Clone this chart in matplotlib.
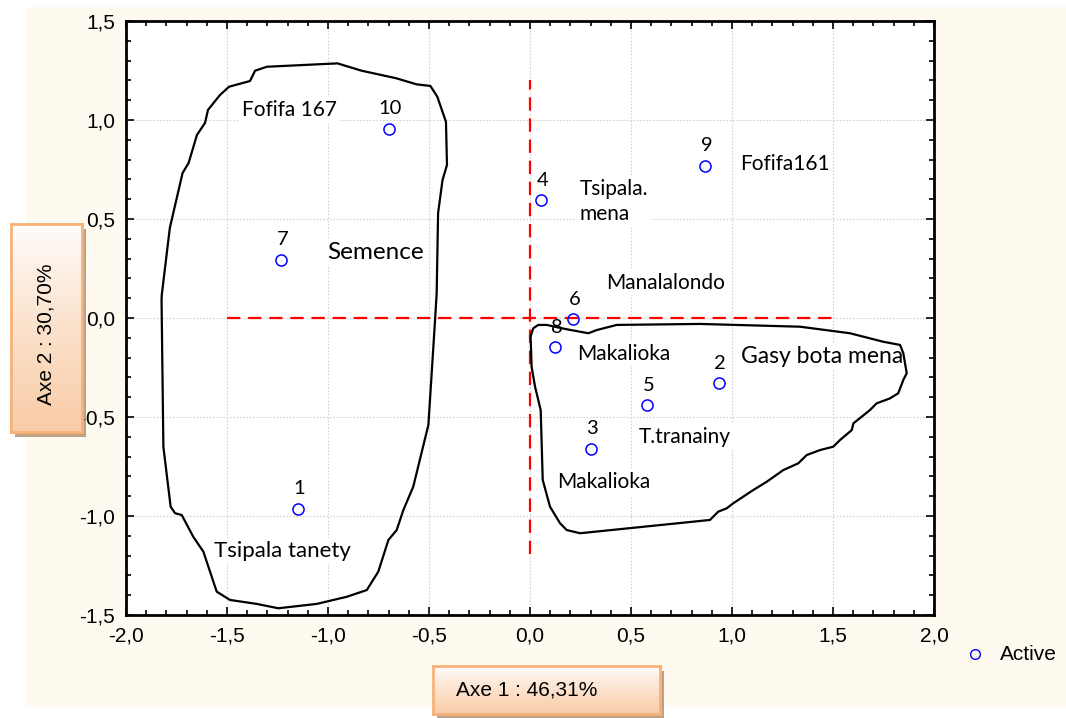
import matplotlib
matplotlib.use("Agg")
import matplotlib.pyplot as plt
import numpy as np
from matplotlib.patches import Rectangle, Polygon
from matplotlib.lines import Line2D
from matplotlib.ticker import MultipleLocator, FuncFormatter

# ---- data: coordinates of the 10 varieties on the first two axes ----
point_ids = ["1", "2", "3", "4", "5", "6", "7", "8", "9", "10"]
axe1 = [-1.15, 0.934, 0.30, 0.053, 0.578, 0.212, -1.233, 0.125, 0.865, -0.699]
axe2 = [-0.965, -0.33, -0.662, 0.594, -0.441, -0.007, 0.293, -0.148, 0.768, 0.956]

# variety names placed beside the points
name_text = ["Fofifa 167", "Semence", "Tsipala tanety", "Tsipala.\nmena", "Fofifa161",
             "Manalalondo", "Makalioka", "Gasy bota mena", "T.tranainy", "Makalioka"]
name_x = [-1.193, -0.767, -1.228, 0.245, 1.26, 0.673, 0.465, 1.446, 0.767, 0.366]
name_y = [1.051, 0.333, -1.177, 0.588, 0.776, 0.178, -0.182, -0.192, -0.599, -0.828]
name_size = [15, 17.5, 16, 15, 15, 15, 15, 16.5, 15, 15]
name_ha = ["center", "center", "center", "left", "center",
           "center", "center", "center", "center", "center"]

# outlines of the two groups
group_left_x = [-1.386, -1.361, -1.302, -0.953, -0.834, -0.663, -0.561, -0.493, -0.459, -0.416,
                -0.411, -0.433, -0.455, -0.462, -0.470, -0.503, -0.578, -0.627, -0.660, -0.701,
                -0.751, -0.808, -0.907, -1.056, -1.246, -1.353, -1.485, -1.551, -1.617, -1.667,
                -1.724, -1.757, -1.779, -1.815, -1.824, -1.823, -1.783, -1.720, -1.690, -1.649,
                -1.609, -1.594, -1.535, -1.490]
group_left_y = [1.197, 1.249, 1.269, 1.286, 1.249, 1.211, 1.180, 1.172, 1.118, 0.991,
                0.773, 0.697, 0.530, 0.126, -0.010, -0.540, -0.852, -0.970, -1.071, -1.121,
                -1.281, -1.374, -1.408, -1.444, -1.466, -1.444, -1.424, -1.382, -1.180, -1.105,
                -0.995, -0.986, -0.953, -0.650, 0.091, 0.116, 0.455, 0.732, 0.783, 0.924,
                0.985, 1.051, 1.126, 1.168]
group_right_x = [0.016, 0.041, 0.083, 0.182, 0.289, 0.330, 0.429, 0.842, 1.337, 1.584,
                 1.749, 1.832, 1.848, 1.865, 1.848, 1.823, 1.782, 1.716, 1.683, 1.601,
                 1.593, 1.535, 1.501, 1.436, 1.370, 1.328, 1.254, 1.172, 1.105, 1.006,
                 0.974, 0.932, 0.891, 0.248, 0.182, 0.149, 0.099, 0.063, 0.053, 0.025,
                 0.008, 0.003]
group_right_y = [-0.052, -0.035, -0.035, -0.057, -0.077, -0.061, -0.035, -0.030, -0.044, -0.077,
                 -0.120, -0.136, -0.178, -0.279, -0.313, -0.380, -0.406, -0.431, -0.465, -0.532,
                 -0.566, -0.616, -0.650, -0.667, -0.692, -0.734, -0.768, -0.827, -0.869, -0.936,
                 -0.961, -0.978, -1.020, -1.087, -1.071, -1.037, -0.953, -0.818, -0.465, -0.347,
                 -0.246, -0.094]

x_label = "Axe 1 : 46,31%"
y_label = "Axe 2 : 30,70%"
legend_label = "Active"

# ---- figure ----
W, H = 1066, 718
fig = plt.figure(figsize=(W / 100, H / 100), dpi=100)
fig.patch.set_facecolor("white")


def fx(px):
    return px / W


def fy(py):
    return 1 - py / H


# cream panel behind everything
fig.patches.append(Rectangle((fx(25), fy(707)), fx(1066) - fx(25), fy(7) - fy(707),
                             transform=fig.transFigure, facecolor="#FFFAF0",
                             edgecolor="none", zorder=-10))

ax = fig.add_axes([fx(126), fy(615), fx(934) - fx(126), fy(21) - fy(615)])
ax.set_facecolor("white")
ax.set_xlim(-2.0, 2.0)
ax.set_ylim(-1.5, 1.5)

fmt = FuncFormatter(lambda v, p: f"{v:.1f}".replace(".", ","))
ax.xaxis.set_major_locator(MultipleLocator(0.5))
ax.yaxis.set_major_locator(MultipleLocator(0.5))
ax.xaxis.set_minor_locator(MultipleLocator(0.1))
ax.yaxis.set_minor_locator(MultipleLocator(0.1))
ax.xaxis.set_major_formatter(fmt)
ax.yaxis.set_major_formatter(fmt)
ax.tick_params(which="both", direction="in", top=True, right=True, width=1.2, color="black")
ax.tick_params(which="major", length=6, pad=8)
ax.tick_params(which="minor", length=3.5)
for lab in ax.get_xticklabels() + ax.get_yticklabels():
    lab.set_fontfamily("Liberation Sans")
    lab.set_fontsize(15)
for s in ax.spines.values():
    s.set_linewidth(2)
    s.set_color("black")

ax.grid(True, which="major", color="#D2D2D2", linestyle=(0, (1.5, 1.5)), linewidth=0.8)
ax.set_axisbelow(True)

# red reference axes through the origin
ax.plot([0, 0], [-1.19, 1.2], color="#FF0000", lw=1.6, dashes=(6, 3.5), zorder=2)
ax.plot([-1.5, 1.5], [0, 0], color="#FF0000", lw=1.6, dashes=(6, 3.5), zorder=2)

# group outlines
for gx, gy in ((group_left_x, group_left_y), (group_right_x, group_right_y)):
    ax.add_patch(Polygon(np.column_stack([gx, gy]), closed=True, fill=False,
                         edgecolor="black", linewidth=1.6, joinstyle="round", zorder=4))

# variety names
for t, x, y, s, ha in zip(name_text, name_x, name_y, name_size, name_ha):
    ax.text(x, y, t, fontsize=s, family="Lato", ha=ha, va="center", linespacing=1.3,
            color="black", zorder=3,
            bbox=dict(facecolor="white", edgecolor="none", pad=2))

# points and their numbers
ax.plot(axe1, axe2, linestyle="none", marker="o", ms=8, mfc="none", mec="#0000FF",
        mew=1.1, zorder=5)
for pid, x, y in zip(point_ids, axe1, axe2):
    ax.annotate(pid, (x, y), xytext=(1.2, 14.5), textcoords="offset points",
                ha="center", va="center", fontsize=14.5, family="Lato", zorder=6)

# legend entry
fig.add_artist(Line2D([fx(975)], [fy(654)], transform=fig.transFigure, linestyle="none",
                      marker="o", ms=7, mfc="none", mec="#0000FF", mew=1.0))
fig.text(fx(1000), fy(655), legend_label, fontsize=15, family="Liberation Sans",
         va="center", ha="left")


# boxed axis titles with a soft peach gradient and shadow
def label_box(x0, y0, x1, y1, text, rotation):
    shadow = Rectangle((fx(x0 + 4), fy(y1 + 5)), fx(x1) - fx(x0), fy(y0) - fy(y1),
                       transform=fig.transFigure, facecolor="#A9825E", edgecolor="none",
                       alpha=0.75, zorder=20)
    fig.patches.append(shadow)
    bax = fig.add_axes([fx(x0), fy(y1), fx(x1) - fx(x0), fy(y0) - fy(y1)])
    bax.set_zorder(21)
    grad = np.linspace(0, 1, 256).reshape(-1, 1) ** 0.8
    top = np.array([1.0, 1.0, 1.0])
    bot = np.array([0.976, 0.800, 0.655])
    img = top[None, None, :] * (1 - grad[:, :, None]) + bot[None, None, :] * grad[:, :, None]
    bax.imshow(img, aspect="auto", extent=(0, 1, 0, 1), origin="upper")
    bax.set_xticks([])
    bax.set_yticks([])
    for s in bax.spines.values():
        s.set_color("#F6B27A")
        s.set_linewidth(2)
    if rotation == 90:
        bax.text(0.5, 0.47, text, rotation=90, ha="center", va="center",
                 fontsize=15, family="Liberation Sans", transform=bax.transAxes)
    else:
        bax.text(0.10, 0.5, text, ha="left", va="center",
                 fontsize=15, family="Liberation Sans", transform=bax.transAxes)


label_box(11, 224, 82, 432, y_label, 90)
label_box(433, 666, 660, 714, x_label, 0)

fig.savefig("out.png", dpi=100, facecolor=fig.get_facecolor())
